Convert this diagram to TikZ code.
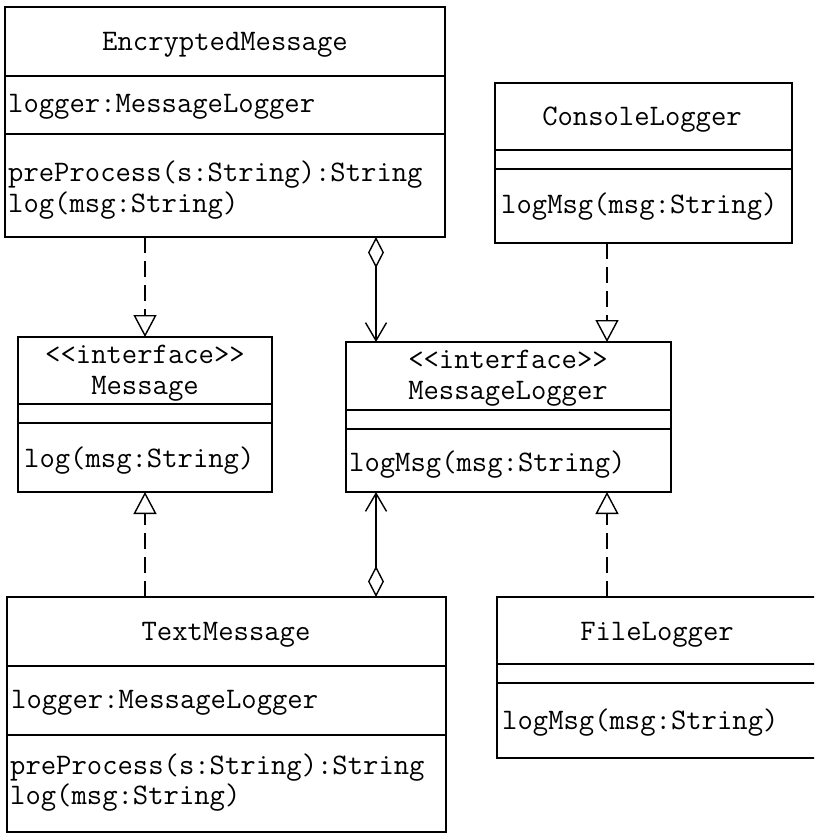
\documentclass[tikz,border=0pt]{standalone}
\usepackage{fontspec}
\usetikzlibrary{arrows.meta}
\begin{document}
\begin{tikzpicture}[x=1pt,y=-1pt,
  cls/.style={draw, line width=1.4pt, anchor=north west, inner sep=0pt, outer sep=0pt},
  div/.style={line width=1.4pt},
  txt/.style={font=\ttfamily\fontsize{29.8}{34}\selectfont, inner sep=0pt, anchor=base west},
  ttl/.style={font=\ttfamily\fontsize{29.8}{34}\selectfont, inner sep=0pt, anchor=base},
  realize/.style={line width=1.4pt, dash pattern=on 16pt off 8pt,
    -{Triangle[open,length=22pt,width=23pt,line width=1.4pt]}},
  agg/.style={line width=1.4pt,
    {Diamond[open,length=31pt,width=16pt,line width=1.4pt]}-{Straight Barb[length=18pt,width=21pt,line width=1.4pt]}},
]
\useasboundingbox (0,0) rectangle (814,834);
\clip (0,0) rectangle (814,834);

% EncryptedMessage
\node[cls, minimum width=440pt, minimum height=230pt] (em) at (5,7) {};
\draw[div] (em.west |- 0,76) -- (em.east |- 0,76);
\draw[div] (em.west |- 0,134) -- (em.east |- 0,134);
\node[ttl] (emT) at (225,51) {EncryptedMessage};
\node[txt] (emA) at (8,113) {logger:MessageLogger};
\node[txt] (emM1) at (8,182) {preProcess(s:String):String};
\node[txt] (emM2) at (8,212) {log(msg:String)};

% ConsoleLogger
\node[cls, minimum width=297pt, minimum height=160pt] (cl) at (495,83) {};
\draw[div] (cl.west |- 0,150) -- (cl.east |- 0,150);
\draw[div] (cl.west |- 0,169) -- (cl.east |- 0,169);
\node[ttl] (clT) at (642,126) {ConsoleLogger};
\node[txt] (clM) at (501,214) {logMsg(msg:String)};

% Message
\node[cls, minimum width=254pt, minimum height=155pt] (msg) at (18,337) {};
\draw[div] (msg.west |- 0,404) -- (msg.east |- 0,404);
\draw[div] (msg.west |- 0,423) -- (msg.east |- 0,423);
\node[ttl] (msgS) at (145,363) {<<interface>>};
\node[ttl] (msgT) at (145,394) {Message};
\node[txt] (msgM) at (24,467) {log(msg:String)};

% MessageLogger
\node[cls, minimum width=325pt, minimum height=150pt] (ml) at (346,342) {};
\draw[div] (ml.west |- 0,410) -- (ml.east |- 0,410);
\draw[div] (ml.west |- 0,429) -- (ml.east |- 0,429);
\node[ttl] (mlS) at (508,368) {<<interface>>};
\node[ttl] (mlT) at (508,399) {MessageLogger};
\node[txt] (mlM) at (349,471) {logMsg(msg:String)};

% TextMessage
\node[cls, minimum width=439pt, minimum height=235pt] (tm) at (7,597) {};
\draw[div] (tm.west |- 0,666) -- (tm.east |- 0,666);
\draw[div] (tm.west |- 0,735) -- (tm.east |- 0,735);
\node[ttl] (tmT) at (226,640) {TextMessage};
\node[txt] (tmA) at (11,708) {logger:MessageLogger};
\node[txt] (tmM1) at (10,774) {preProcess(s:String):String};
\node[txt] (tmM2) at (10,804) {log(msg:String)};

% FileLogger
\node[cls, minimum width=320pt, minimum height=161pt] (fl) at (497,597) {};
\draw[div] (fl.west |- 0,664) -- (fl.east |- 0,664);
\draw[div] (fl.west |- 0,683) -- (fl.east |- 0,683);
\node[ttl] (flT) at (657,640) {FileLogger};
\node[txt] (flM) at (502,729) {logMsg(msg:String)};

% connectors
\draw[realize] (msg.north |- em.south) -- (msg.north);
\draw[agg] ([xshift=30pt]ml.north west |- em.south) -- ([xshift=30pt]ml.north west);
\draw[realize] ([xshift=261pt]ml.north west |- cl.south) -- ([xshift=261pt]ml.north west);
\draw[realize] (msg.south |- tm.north) -- (msg.south);
\draw[agg] ([xshift=30pt]ml.south west |- tm.north) -- ([xshift=30pt]ml.south west);
\draw[realize] ([xshift=261pt]ml.south west |- fl.north) -- ([xshift=261pt]ml.south west);
\end{tikzpicture}
\end{document}
